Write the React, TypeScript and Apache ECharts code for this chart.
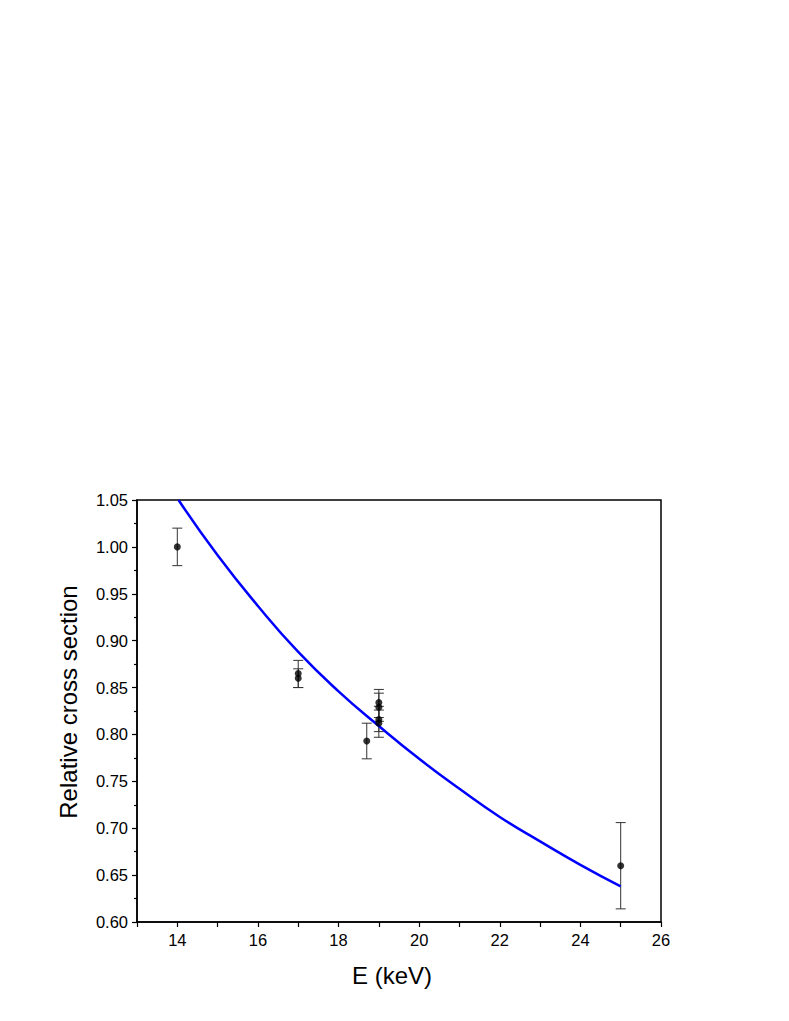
import React, { useEffect, useRef } from "react";
import * as echarts from "echarts";

// Measured points: energy (keV), relative cross section, error low, error high
const pointE = [14, 17, 17, 18.7, 19, 19, 19, 19, 25];
const pointY = [1.0, 0.865, 0.86, 0.793, 0.834, 0.829, 0.816, 0.812, 0.66];
const errLow = [0.98, 0.85, 0.85, 0.774, 0.818, 0.814, 0.803, 0.797, 0.614];
const errHigh = [1.02, 0.879, 0.87, 0.812, 0.848, 0.844, 0.83, 0.826, 0.706];

// Fitted curve
const curveE = [14.03, 15, 16, 17, 18, 19, 20, 21, 22, 23, 24, 25];
const curveY = [1.05, 0.991, 0.937, 0.888, 0.846, 0.809, 0.774, 0.742, 0.712, 0.686, 0.661, 0.638];

const xTicks = [14, 16, 18, 20, 22, 24, 26];

export default function App() {
  const ref = useRef<HTMLDivElement>(null);
  useEffect(() => {
    document.body.style.margin = "0";
    const chart = echarts.init(ref.current!, null, { renderer: "svg" });
    const font = "Liberation Sans, Arial, sans-serif";
    const errData = pointE.map((e, i) => [e, errLow[i], errHigh[i]]);
    chart.setOption({
      animation: false,
      backgroundColor: "#ffffff",
      grid: {
        left: 137,
        right: 128,
        top: 500,
        bottom: 99,
        show: true,
        borderColor: "#000",
        borderWidth: 1.5,
      },
      xAxis: {
        type: "value",
        min: 13,
        max: 26,
        interval: 1,
        name: "E (keV)",
        nameLocation: "middle",
        nameGap: 41,
        nameTextStyle: { fontFamily: font, fontSize: 24, color: "#000", padding: [0, 14, 0, 0] },
        axisLine: { show: true, onZero: false, lineStyle: { color: "#000", width: 1.5 } },
        axisTick: { show: true, inside: false, length: 5, lineStyle: { color: "#000", width: 1.2 } },
        axisLabel: {
          fontFamily: font,
          fontSize: 16.5,
          color: "#000",
          margin: 9,
          formatter: (v: number) => (xTicks.includes(v) ? String(v) : ""),
        },
        splitLine: { show: false },
      },
      yAxis: {
        type: "value",
        min: 0.6,
        max: 1.05,
        interval: 0.05,
        name: "Relative cross section",
        nameLocation: "middle",
        nameGap: 57,
        nameTextStyle: { fontFamily: font, fontSize: 24, color: "#000", padding: [0, 0, 0, 18] },
        axisLine: { show: true, onZero: false, lineStyle: { color: "#000", width: 1.5 } },
        axisTick: { show: true, inside: false, length: 5, lineStyle: { color: "#000", width: 1.2 } },
        minorTick: { show: true, splitNumber: 2, length: 3, lineStyle: { color: "#000", width: 1.2 } },
        axisLabel: {
          fontFamily: font,
          fontSize: 16.5,
          color: "#000",
          margin: 9,
          formatter: (v: number) => v.toFixed(2),
        },
        splitLine: { show: false },
      },
      series: [
        {
          type: "line",
          data: curveE.map((e, i) => [e, curveY[i]]),
          smooth: true,
          showSymbol: false,
          lineStyle: { color: "#0000ff", width: 2.5 },
          z: 3,
        },
        {
          type: "custom",
          data: errData,
          z: 2,
          renderItem: (params: any, api: any) => {
            const x = api.value(0);
            const lo = api.coord([x, api.value(1)]);
            const hi = api.coord([x, api.value(2)]);
            const hw = 5;
            const style = { stroke: "#333", lineWidth: 1 };
            return {
              type: "group",
              children: [
                { type: "line", shape: { x1: lo[0], y1: lo[1], x2: hi[0], y2: hi[1] }, style },
                { type: "line", shape: { x1: lo[0] - hw, y1: lo[1], x2: lo[0] + hw, y2: lo[1] }, style },
                { type: "line", shape: { x1: hi[0] - hw, y1: hi[1], x2: hi[0] + hw, y2: hi[1] }, style },
              ],
            };
          },
        },
        {
          type: "scatter",
          data: pointE.map((e, i) => [e, pointY[i]]),
          symbol: "circle",
          symbolSize: 7,
          itemStyle: { color: "#000" },
          z: 4,
        },
      ],
    });
    return () => chart.dispose();
  }, []);
  return <div ref={ref} style={{ width: 789, height: 1021 }} />;
}
